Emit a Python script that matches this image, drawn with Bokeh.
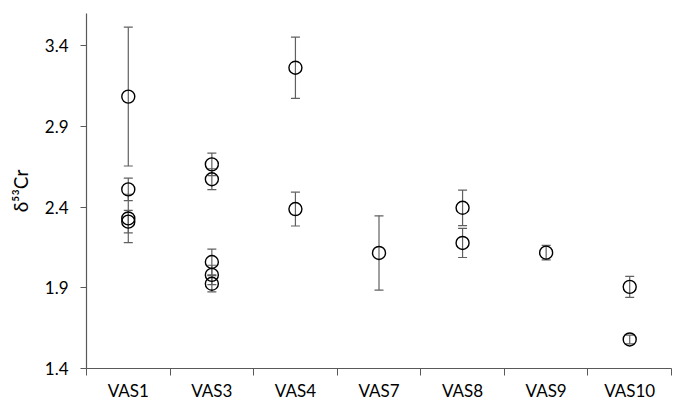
from bokeh.plotting import figure
from bokeh.models import ColumnDataSource, Whisker, TeeHead, FixedTicker, Range1d
from bokeh.embed import file_html
from bokeh.resources import INLINE

categories = ["VAS1", "VAS3", "VAS4", "VAS7", "VAS8", "VAS9", "VAS10"]
sample_site = ["VAS1", "VAS1", "VAS1", "VAS1",
               "VAS3", "VAS3", "VAS3", "VAS3", "VAS3",
               "VAS4", "VAS4",
               "VAS7",
               "VAS8", "VAS8",
               "VAS9",
               "VAS10", "VAS10"]
d53cr = [3.085, 2.51, 2.33, 2.31,
         2.665, 2.573, 2.06, 1.98, 1.925,
         3.264, 2.388,
         2.116,
         2.396, 2.178,
         2.118,
         1.906, 1.58]
err = [0.43, 0.07, 0.15, 0.07,
       0.07, 0.065, 0.08, 0.06, 0.05,
       0.19, 0.105,
       0.23,
       0.11, 0.09,
       0.045,
       0.065, 0.027]
y_ticks = [1.4, 1.9, 2.4, 2.9, 3.4]

xs = [categories.index(s) + 0.5 for s in sample_site]
src = ColumnDataSource(dict(
    x=xs, y=d53cr,
    lower=[v - e for v, e in zip(d53cr, err)],
    upper=[v + e for v, e in zip(d53cr, err)],
))

FONT = "Lato"
AX = "#595959"

p = figure(width=674, height=403, output_backend="svg", toolbar_location=None,
           x_range=Range1d(0, len(categories)), y_range=Range1d(1.4, 3.6),
           min_border_left=86, min_border_right=3, min_border_top=13, min_border_bottom=34)
p.outline_line_color = None
p.xgrid.visible = False
p.ygrid.visible = False
p.background_fill_color = "white"
p.border_fill_color = "white"

wh = Whisker(source=src, base="x", upper="upper", lower="lower", dimension="height",
             line_color="#606060", line_width=1.2,
             upper_head=TeeHead(size=9, line_color="#606060", line_width=1.2),
             lower_head=TeeHead(size=9, line_color="#606060", line_width=1.2))
p.add_layout(wh)

p.scatter("x", "y", source=src, size=13, marker="circle", fill_color=None,
          line_color="black", line_width=1.4)

# x axis: labels at category centres, ticks at category boundaries
xt = FixedTicker(ticks=[i + 0.5 for i in range(len(categories))],
                 minor_ticks=list(range(len(categories) + 1)))
p.xaxis.ticker = xt
p.xaxis.major_label_overrides = {i + 0.5: c for i, c in enumerate(categories)}
p.xaxis.major_tick_line_color = None
p.xaxis.major_tick_out = 7
p.xaxis.major_tick_in = 0
p.xaxis.minor_tick_out = 7
p.xaxis.minor_tick_in = 0
p.xaxis.minor_tick_line_color = AX
p.xaxis.axis_line_color = AX
p.xaxis.axis_line_width = 1.2
p.xaxis.major_label_standoff = 4
p.xaxis.major_label_text_font = FONT
p.xaxis.major_label_text_font_size = "17px"
p.xaxis.major_label_text_color = "black"

p.yaxis.ticker = FixedTicker(ticks=y_ticks, minor_ticks=[])
p.yaxis.formatter.use_scientific = False
p.yaxis.major_tick_out = 6
p.yaxis.major_tick_in = 0
p.yaxis.major_tick_line_color = AX
p.yaxis.minor_tick_line_color = None
p.yaxis.axis_line_color = AX
p.yaxis.axis_line_width = 1.2
p.yaxis.major_label_standoff = 12
p.yaxis.major_label_text_font = FONT
p.yaxis.major_label_text_font_size = "17px"
p.yaxis.major_label_text_color = "black"
p.yaxis.axis_label = "δ⁵³Cr"
p.yaxis.axis_label_text_font = FONT
p.yaxis.axis_label_text_font_size = "19px"
p.yaxis.axis_label_text_font_style = "normal"
p.yaxis.axis_label_text_color = "black"
p.yaxis.axis_label_standoff = 10

open("out.html", "w").write(file_html(p, INLINE))
